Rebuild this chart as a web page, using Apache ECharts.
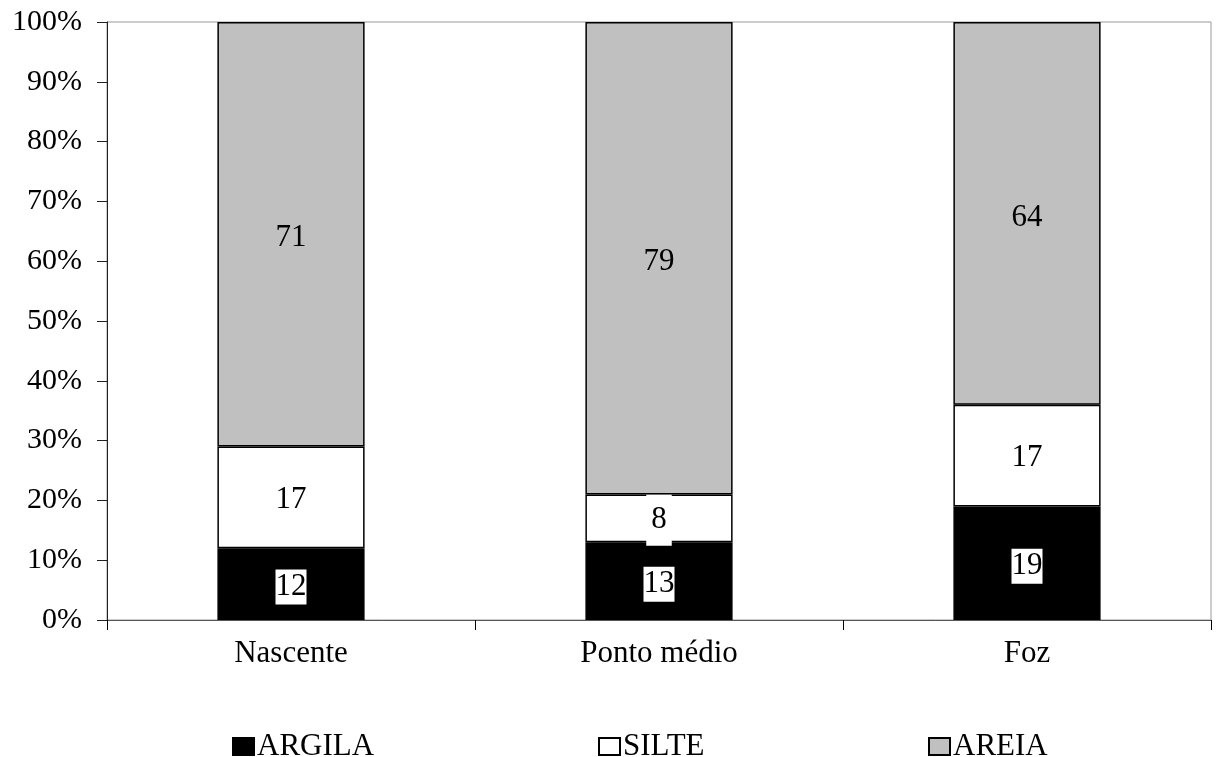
<!DOCTYPE html>
<html>
<head>
<meta charset="utf-8">
<script src="https://cdn.jsdelivr.net/npm/echarts@6/dist/echarts.min.js"></script>
<style>
html,body{margin:0;padding:0;background:#fff;}
#chart{width:1221px;height:757px;}
</style>
</head>
<body>
<div id="chart"></div>
<script>
const categories = ['Nascente', 'Ponto médio', 'Foz'];
const argila = [12, 13, 19];
const silte = [17, 8, 17];
const areia = [71, 79, 64];
const yTicks = [0, 10, 20, 30, 40, 50, 60, 70, 80, 90, 100];

const FONT = '"Liberation Serif", "Times New Roman", serif';
const FS = 31;

const chart = echarts.init(document.getElementById('chart'), null, {renderer: 'canvas'});

function barSeries(name, data, color, labelBg, pad, dy) {
  return {
    name: name,
    type: 'bar',
    stack: 'total',
    data: data,
    barWidth: '40%',
    itemStyle: {color: color, borderColor: '#000', borderWidth: 1.5},
    label: {
      show: true,
      position: 'inside',
      fontFamily: FONT,
      fontSize: FS,
      color: '#000',
      backgroundColor: labelBg,
      padding: pad,
      offset: [0, dy],
      formatter: p => String(p.value)
    },
    emphasis: {disabled: true}
  };
}

function legendAt(name, left) {
  return {
    data: [name],
    left: left,
    top: 731,
    padding: 0,
    itemWidth: 21,
    itemHeight: 17,
    itemGap: 0,
    icon: 'rect',
    selectedMode: false,
    textStyle: {fontFamily: FONT, fontSize: FS, color: '#000', padding: [2, 0, 0, -2]}
  };
}

chart.setOption({
  animation: false,
  backgroundColor: '#fff',
  grid: {
    left: 107, right: 10, top: 22, bottom: 137,
    show: true, borderColor: '#999', borderWidth: 1, backgroundColor: 'transparent'
  },
  legend: [legendAt('ARGILA', 232), legendAt('SILTE', 598), legendAt('AREIA', 928)],
  xAxis: {
    type: 'category',
    data: categories,
    boundaryGap: true,
    axisLine: {lineStyle: {color: '#555', width: 1}},
    axisTick: {show: true, length: 10, inside: false, lineStyle: {color: '#000'}},
    axisLabel: {fontFamily: FONT, fontSize: FS, color: '#000', margin: 18}
  },
  yAxis: {
    type: 'value',
    min: 0, max: 100, interval: 10,
    axisLine: {show: true, lineStyle: {color: '#222', width: 1}},
    axisTick: {show: true, length: 10, lineStyle: {color: '#222'}},
    splitLine: {show: false},
    axisLabel: {
      fontFamily: FONT, fontSize: 30, color: '#000', margin: 25,
      formatter: v => (yTicks.includes(v) ? v + '%' : '')
    }
  },
  series: [
    barSeries('ARGILA', argila, '#000000', '#fff', [3, 0, 1, 0], 3),
    barSeries('SILTE', silte, '#ffffff', '#fff', [10, 5, 10, 5], 2),
    barSeries('AREIA', areia, '#c0c0c0', 'transparent', [2, 0, 0, 0], 4)
  ]
});
</script>
</body>
</html>
